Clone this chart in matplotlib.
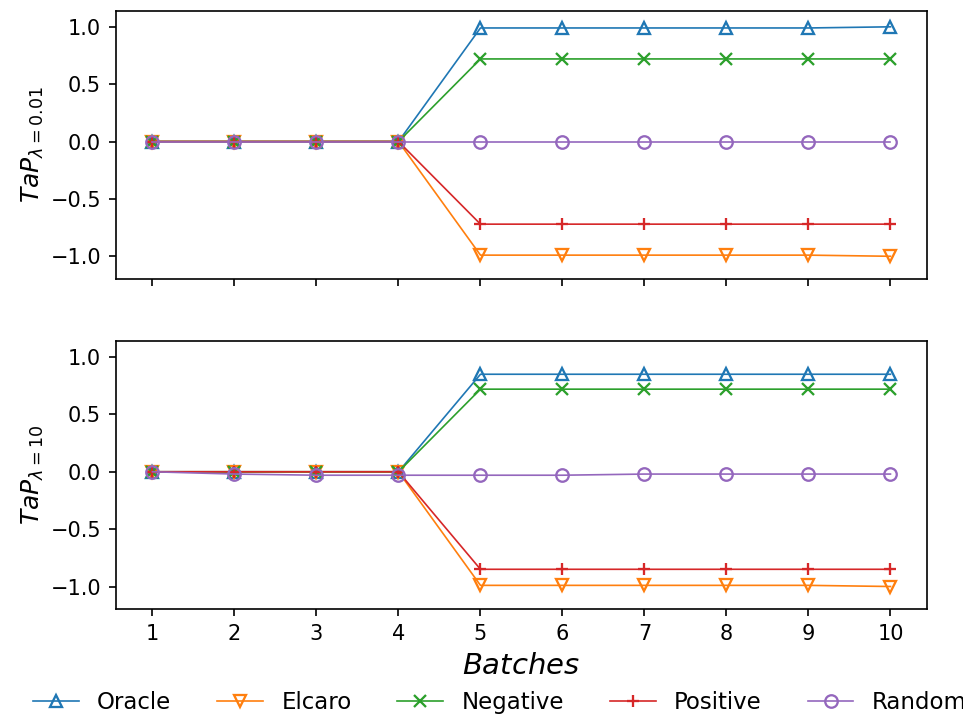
import numpy as np
import matplotlib.pyplot as plt

batches = list(range(1, 11))

# TaP with lambda = 0.01
oracle_a = [0, 0, 0, 0, 0.99, 0.99, 0.99, 0.99, 0.99, 1.0]
elcaro_a = [0, 0, 0, 0, -0.99, -0.99, -0.99, -0.99, -0.99, -1.0]
negative_a = [0, 0, 0, 0, 0.72, 0.72, 0.72, 0.72, 0.72, 0.72]
positive_a = [0, 0, 0, 0, -0.72, -0.72, -0.72, -0.72, -0.72, -0.72]
random_a = [0, 0, 0, 0, 0, 0, 0, 0, 0, 0]

# TaP with lambda = 10
oracle_b = [0, 0, 0, 0, 0.85, 0.85, 0.85, 0.85, 0.85, 0.85]
elcaro_b = [0, 0, 0, 0, -0.99, -0.99, -0.99, -0.99, -0.99, -1.0]
negative_b = [0, 0, 0, 0, 0.72, 0.72, 0.72, 0.72, 0.72, 0.72]
positive_b = [0, 0, 0, 0, -0.85, -0.85, -0.85, -0.85, -0.85, -0.85]
random_b = [0, -0.02, -0.03, -0.03, -0.03, -0.03, -0.02, -0.02, -0.02, -0.02]

names = ['Oracle', 'Elcaro', 'Negative', 'Positive', 'Random']
markers = ['^', 'v', 'x', '+', 'o']
colors = ['tab:blue', 'tab:orange', 'tab:green', 'tab:red', 'tab:purple']

fig, axs = plt.subplots(2, 1, figsize=(6.42, 4.78), dpi=150, sharex=True)
fig.subplots_adjust(left=0.12, right=0.963, top=0.985, bottom=0.15, hspace=0.23)

panels = [
    (axs[0], [oracle_a, elcaro_a, negative_a, positive_a, random_a], r'$TaP_{\lambda=0.01}$'),
    (axs[1], [oracle_b, elcaro_b, negative_b, positive_b, random_b], r'$TaP_{\lambda=10}$'),
]

for ax, series, ylab in panels:
    for vals, name, m, c in zip(series, names, markers, colors):
        ax.plot(batches, vals, marker=m, color=c, label=name, lw=0.8,
                markersize=6, markerfacecolor='none', markeredgewidth=1.1)
    ax.set_ylim(-1.2, 1.14)
    ax.set_yticks([-1.0, -0.5, 0.0, 0.5, 1.0])
    ax.set_ylabel(ylab, fontsize=12, labelpad=2)

axs[1].set_xticks(batches)
axs[1].set_xlabel(r'$Batches$', fontsize=14, labelpad=4)

handles, labels = axs[1].get_legend_handles_labels()
fig.legend(handles, labels, loc='lower center', ncol=5, frameon=False,
           bbox_to_anchor=(0.519, -0.025), fontsize=11, columnspacing=2.0)

fig.savefig('out.png', dpi=150)
